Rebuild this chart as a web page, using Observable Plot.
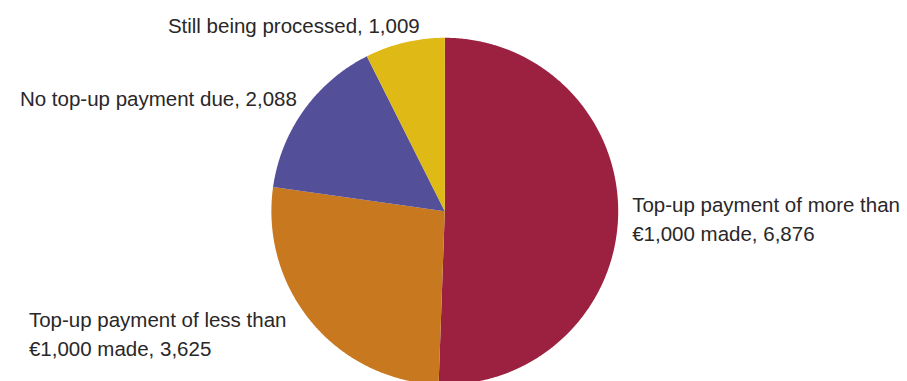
<!DOCTYPE html>
<html>
<head>
<meta charset="utf-8">
<script src="https://cdn.jsdelivr.net/npm/d3@7"></script>
<script src="https://cdn.jsdelivr.net/npm/@observablehq/plot@0.6"></script>
<style>
  html, body { margin: 0; padding: 0; background: #fff; }
  #chart { width: 907px; height: 381px; overflow: hidden; }
</style>
</head>
<body>
<div id="chart"></div>
<script>
// ---- data ----
const categories = [
  "Top-up payment of more than €1,000 made",
  "Top-up payment of less than €1,000 made",
  "No top-up payment due",
  "Still being processed"
];
const labelText = [
  "Top-up payment of more than\n€1,000 made",
  "Top-up payment of less than\n€1,000 made",
  "No top-up payment due",
  "Still being processed"
];
const values = [6876, 3625, 2088, 1009];
const colors = ["#9c2140", "#c8781e", "#534f98", "#dfb915"];

// ---- label layout (style, not data) ----
const labelLayout = [
  {anchor: "start", dx: 14, dy: 3},
  {anchor: "start", dx: -283, dy: 10},
  {anchor: "end", dx: -7, dy: -13},
  {anchor: "end", dx: 15, dy: -19}
];

// ---- geometry from data ----
const arcs = d3.pie().sort(null).startAngle(0).endAngle(2 * Math.PI)(values);
const polyPoints = [];
arcs.forEach((a, i) => {
  const key = categories[i];
  polyPoints.push({key, x: 0, y: 0});
  const n = Math.max(2, Math.ceil((a.endAngle - a.startAngle) / (Math.PI / 360)));
  for (let k = 0; k <= n; k++) {
    const t = a.startAngle + (a.endAngle - a.startAngle) * k / n;
    polyPoints.push({key, x: Math.sin(t), y: Math.cos(t)});
  }
  polyPoints.push({key, x: 0, y: 0});
});
const fmt = d3.format(",");
const labels = arcs.map((a, i) => {
  const m = (a.startAngle + a.endAngle) / 2;
  return {
    key: categories[i],
    x: Math.sin(m), y: Math.cos(m),
    text: labelText[i] + ", " + fmt(values[i]),
    ...labelLayout[i]
  };
});

const cx = 444.3, cy = 210.7, r = 173.4;
const textMarks = labels.map(l => Plot.text([l], {
  x: "x", y: "y", text: "text",
  textAnchor: l.anchor, dx: l.dx, dy: l.dy,
  lineAnchor: "middle", lineHeight: 1.39,
  fill: "#2a2728", fontSize: 20.5
}));

const chart = Plot.plot({
  width: 907,
  height: 381,
  style: {background: "#fff", fontFamily: "'Liberation Sans', Arial, sans-serif", overflow: "hidden"},
  x: {domain: [-1, 1], range: [cx - r, cx + r], axis: null},
  y: {domain: [-1, 1], range: [cy + r, cy - r], axis: null},
  color: {domain: categories, range: colors},
  marks: [
    Plot.line(polyPoints, {x: "x", y: "y", z: "key", fill: "key", stroke: null, curve: "linear"}),
    ...textMarks
  ]
});
document.getElementById("chart").appendChild(chart);
</script>
</body>
</html>
